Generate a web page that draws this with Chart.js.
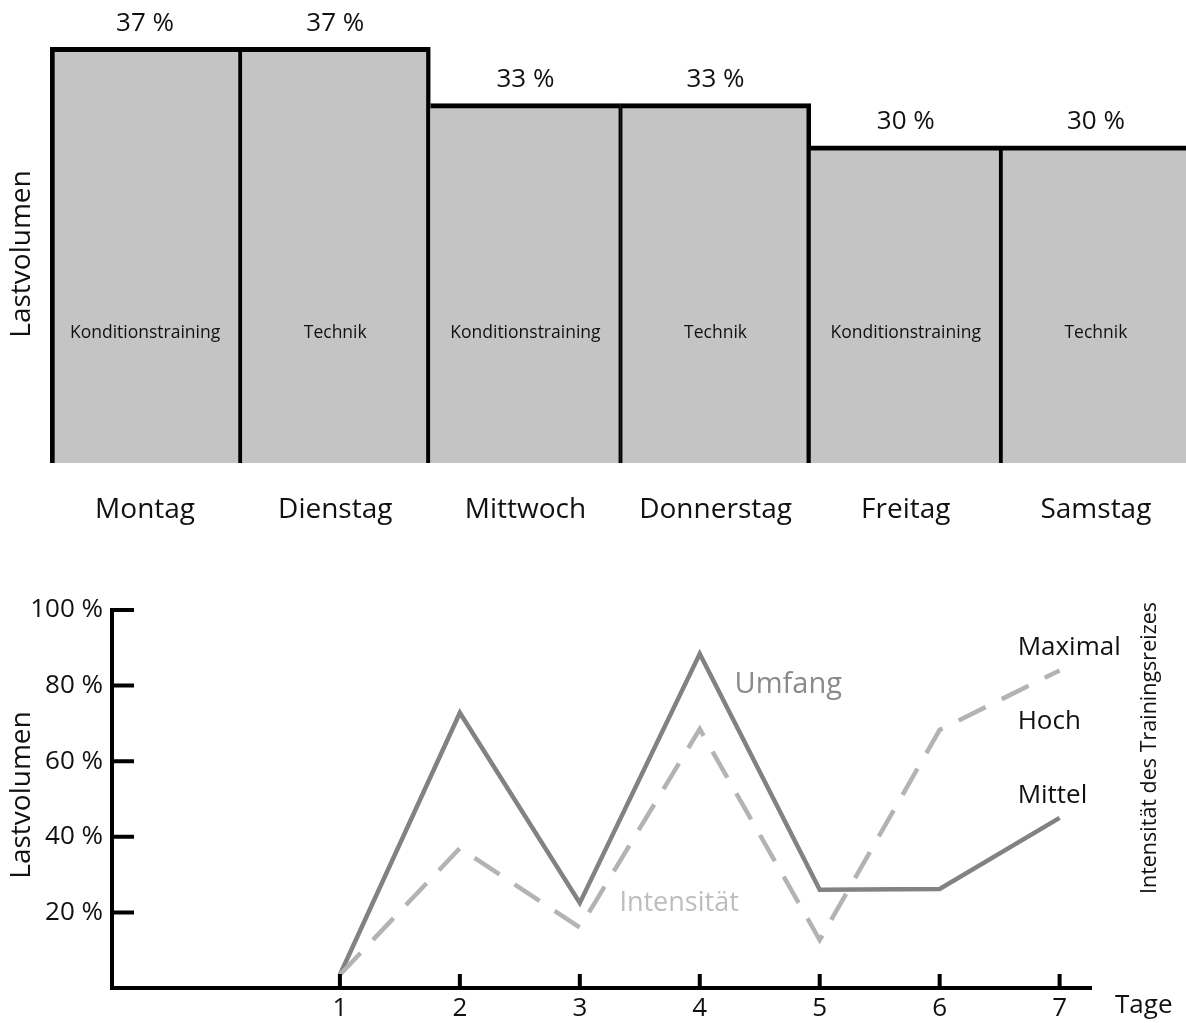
<!DOCTYPE html>
<html lang="de">
<head>
<meta charset="utf-8">
<script src="https://cdn.jsdelivr.net/npm/chart.js@4.4.1/dist/chart.umd.min.js"></script>
<style>
    html, body { margin: 0; padding: 0; background: #fff; overflow: hidden; }
    .box { position: absolute; left: 0; }
    #week-box { top: 0; width: 1191px; height: 560px; }
    #load-box { top: 560px; width: 1186px; height: 463px; }
</style>
</head>
<body>
<div class="box" id="week-box"><canvas id="week-chart"></canvas></div>
<div class="box" id="load-box"><canvas id="load-chart"></canvas></div>
<script>
// Wochenplan: Lastvolumen pro Tag
const days = ['Montag', 'Dienstag', 'Mittwoch', 'Donnerstag', 'Freitag', 'Samstag'];
const dayLoad = [37, 37, 33, 33, 30, 30];
const dayFocus = ['Konditionstraining', 'Technik', 'Konditionstraining', 'Technik', 'Konditionstraining', 'Technik'];

// Verlauf über 7 Tage
const trainingDays = [1, 2, 3, 4, 5, 6, 7];
const umfang = [3.5, 72.8, 22.5, 88.4, 26, 26.2, 45];
const intensitaet = [3.5, 37, 16, 68.5, 12.7, 68.3, 84];
const loadTicks = [20, 40, 60, 80, 100];
const intensityLevels = ['Maximal', 'Hoch', 'Mittel'];

const FONT = '"Open Sans", "Noto Sans", sans-serif';
const INK = '#111';

function barBorder(ctx) {
    const i = ctx.dataIndex;
    const cur = dayLoad[i];
    const prev = dayLoad[i - 1];
    const next = dayLoad[i + 1];
    let left = 2.25, right = 2.25;
    if (i === 0) left = 5;
    else if (prev > cur) left = 0;
    else if (prev < cur) left = 4.5;
    if (i === dayLoad.length - 1) right = 5;
    else if (next < cur) right = 4.5;
    else if (next > cur) right = 0;
    return { top: 5, bottom: 5, left, right };
}

const weekLabels = {
    id: 'weekLabels',
    afterDatasetsDraw(chart) {
        const { ctx, chartArea } = chart;
        const bars = chart.getDatasetMeta(0).data;
        ctx.save();
        ctx.fillStyle = INK;
        ctx.textAlign = 'center';
        ctx.textBaseline = 'middle';
        bars.forEach((bar, i) => {
            ctx.font = `26px ${FONT}`;
            ctx.fillText(dayLoad[i] + ' %', bar.x, bar.y - 24);
            ctx.font = `17.5px ${FONT}`;
            ctx.fillText(dayFocus[i], bar.x, chartArea.bottom - 130);
        });
        ctx.translate(22, 254);
        ctx.rotate(-Math.PI / 2);
        ctx.font = `28px ${FONT}`;
        ctx.fillText('Lastvolumen', 0, 0);
        ctx.restore();
    }
};

new Chart(document.getElementById('week-chart'), {
    type: 'bar',
    data: {
        labels: days,
        datasets: [{
            data: dayLoad,
            backgroundColor: '#c4c4c4',
            borderColor: '#000',
            borderWidth: barBorder,
            borderSkipped: false,
            barPercentage: 1,
            categoryPercentage: 1
        }]
    },
    options: {
        responsive: true,
        maintainAspectRatio: false,
        animation: false,
        layout: { padding: { left: 50, right: 0, top: 5, bottom: 0 } },
        plugins: { legend: { display: false }, tooltip: { enabled: false } },
        scales: {
            x: {
                grid: { display: false, drawTicks: false },
                border: { display: false },
                ticks: { font: { family: FONT, size: 28 }, color: INK, padding: 30 },
                afterFit: s => { s.height = 97; }
            },
            y: { display: false, min: 7.5, max: 40 }
        }
    },
    plugins: [weekLabels]
});

const loadDecor = {
    id: 'loadDecor',
    afterDraw(chart) {
        const { ctx, chartArea: a, scales: { x, y } } = chart;
        ctx.save();
        // Achsen mit nach innen zeigenden Ticks
        ctx.strokeStyle = '#000';
        ctx.lineWidth = 4;
        ctx.beginPath();
        ctx.moveTo(a.left, y.getPixelForValue(100) - 2);
        ctx.lineTo(a.left, a.bottom + 2);
        ctx.moveTo(a.left - 2, a.bottom);
        ctx.lineTo(a.right, a.bottom);
        y.ticks.forEach(t => {
            const py = y.getPixelForValue(t.value);
            ctx.moveTo(a.left, py);
            ctx.lineTo(a.left + 22, py);
        });
        x.ticks.forEach(t => {
            const px = x.getPixelForValue(t.value);
            ctx.moveTo(px, a.bottom);
            ctx.lineTo(px, a.bottom - 14);
        });
        ctx.stroke();

        ctx.textAlign = 'left';
        ctx.textBaseline = 'middle';
        ctx.font = `29px ${FONT}`;
        ctx.fillStyle = '#8a8a8a';
        ctx.fillText('Umfang', x.getPixelForValue(4.29), y.getPixelForValue(80.2));
        ctx.font = `27px ${FONT}`;
        ctx.fillStyle = '#bdbdbd';
        ctx.fillText('Intensität', x.getPixelForValue(3.33), y.getPixelForValue(22.5));

        ctx.fillStyle = INK;
        ctx.font = `26px ${FONT}`;
        const levelAt = [90, 70.6, 51];
        intensityLevels.forEach((t, i) => {
            ctx.fillText(t, x.getPixelForValue(6.65), y.getPixelForValue(levelAt[i]));
        });
        ctx.fillText('Tage', a.right + 23, a.bottom + 18);

        ctx.textAlign = 'center';
        ctx.save();
        ctx.translate(1150, 188);
        ctx.rotate(-Math.PI / 2);
        ctx.font = `21.5px ${FONT}`;
        ctx.fillText('Intensität des Trainingsreizes', 0, 0);
        ctx.restore();

        ctx.translate(22, 235);
        ctx.rotate(-Math.PI / 2);
        ctx.font = `28px ${FONT}`;
        ctx.fillText('Lastvolumen', 0, 0);
        ctx.restore();
    }
};

new Chart(document.getElementById('load-chart'), {
    type: 'line',
    data: {
        datasets: [
            {
                label: 'Intensität',
                data: trainingDays.map((d, i) => ({ x: d, y: intensitaet[i] })),
                borderColor: '#b3b3b3',
                borderWidth: 4.5,
                borderDash: [30, 18],
                pointRadius: 0,
                tension: 0
            },
            {
                label: 'Umfang',
                data: trainingDays.map((d, i) => ({ x: d, y: umfang[i] })),
                borderColor: '#828282',
                borderWidth: 4.5,
                borderJoinStyle: 'miter',
                pointRadius: 0,
                tension: 0
            }
        ]
    },
    options: {
        responsive: true,
        maintainAspectRatio: false,
        animation: false,
        layout: { padding: { top: 50, right: 94, left: 0, bottom: 0 } },
        plugins: { legend: { display: false }, tooltip: { enabled: false } },
        scales: {
            x: {
                type: 'linear',
                min: -0.9,
                max: 7.27,
                afterBuildTicks: s => { s.ticks = trainingDays.map(v => ({ value: v })); },
                grid: { display: false, drawTicks: false },
                border: { display: false },
                ticks: { font: { family: FONT, size: 26 }, color: INK, padding: 5 },
                afterFit: s => { s.height = 35; }
            },
            y: {
                min: 0,
                max: 100,
                afterBuildTicks: s => { s.ticks = loadTicks.map(v => ({ value: v })); },
                grid: { display: false, drawTicks: false },
                border: { display: false },
                ticks: { font: { family: FONT, size: 26 }, color: INK, padding: 9, callback: v => v + ' %' },
                afterFit: s => { s.width = 112; }
            }
        }
    },
    plugins: [loadDecor]
});
</script>
</body>
</html>
